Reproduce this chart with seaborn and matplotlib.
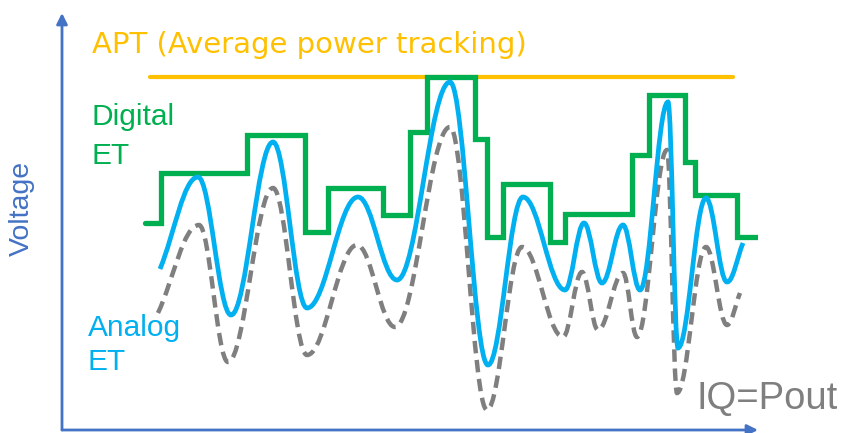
import numpy as np
import pandas as pd
import matplotlib
matplotlib.use("Agg")
import matplotlib.pyplot as plt
from matplotlib.path import Path
from matplotlib.patches import PathPatch
import seaborn as sns

# time axis / voltage axis in arbitrary units (origin at the arrow corner)
apt_t = [88, 671]
apt_v = [353, 353]

digital_t = [83, 99, 185, 243, 266, 321, 348, 365, 413, 425, 441, 488,
             503, 570, 587, 623, 633, 675, 696]
digital_v = [207, 257, 295, 198, 242, 215, 298, 353, 291, 193, 246, 188,
             216, 275, 335, 268, 235, 193]

# turning points of the analog ET envelope
analog_t = [98, 136, 169, 211, 245, 296, 335, 388, 426, 461, 503, 522,
            540, 561, 578, 606, 616, 644, 665, 681]
analog_v = [161, 253, 115, 288, 122, 233, 150, 348, 65, 233, 140, 207,
            147, 205, 140, 328, 82, 232, 148, 187]

# turning points of the IQ=Pout signal
iq_t = [96, 137, 166, 211, 245, 295, 333, 388, 425, 460, 501, 520,
        536, 561, 575, 605, 615, 644, 665, 678]
iq_v = [117, 205, 68, 242, 75, 185, 103, 303, 20, 183, 93, 158,
        100, 157, 93, 280, 37, 183, 105, 137]

ORANGE = "#FFC000"
GREEN = "#00B050"
CYAN = "#00B0F0"
GRAY = "#7F7F7F"
BLUE = "#4472C4"


def curve_path(xs, ys, k=0.38):
    # cubic bezier through the turning points, flat tangent at each extremum
    verts = [(xs[0], ys[0])]
    codes = [Path.MOVETO]
    n = len(xs)
    for i in range(n - 1):
        dx = xs[i + 1] - xs[i]
        s0 = 0.0
        s1 = 0.0
        if i == 0:
            s0 = (ys[1] - ys[0]) / dx
        if i + 1 == n - 1:
            s1 = (ys[i + 1] - ys[i]) / dx
        verts += [(xs[i] + k * dx, ys[i] + s0 * k * dx),
                  (xs[i + 1] - k * dx, ys[i + 1] - s1 * k * dx),
                  (xs[i + 1], ys[i + 1])]
        codes += [Path.CURVE4] * 3
    return Path(verts, codes)


sns.set_theme(style="white")
plt.rcParams["font.family"] = ["DejaVu Sans"]

fig = plt.figure(figsize=(8.48, 4.33), dpi=100)
ax = fig.add_axes([62 / 848, 3 / 433, 696 / 848, 417 / 433])
ax.set_xlim(0, 696)
ax.set_ylim(0, 417)
ax.set_xticks([])
ax.set_yticks([])
for sp in ax.spines.values():
    sp.set_visible(False)

apt_df = pd.DataFrame({"t": apt_t, "v": apt_v})
sns.lineplot(data=apt_df, x="t", y="v", color=ORANGE, lw=3.0,
             estimator=None, ax=ax, zorder=2)

dig_df = pd.DataFrame({"t": digital_t, "v": digital_v + [digital_v[-1]]})
sns.lineplot(data=dig_df, x="t", y="v", color=GREEN, lw=3.8,
             drawstyle="steps-post", estimator=None, ax=ax, zorder=3,
             solid_joinstyle="miter")

ax.add_patch(PathPatch(curve_path(iq_t, iq_v), fill=False, edgecolor=GRAY,
                       lw=3.2, linestyle=(0, (2.8, 1.5)), zorder=4,
                       capstyle="butt"))
ax.add_patch(PathPatch(curve_path(analog_t, analog_v), fill=False,
                       edgecolor=CYAN, lw=3.4, zorder=5))

# axis arrows
arrow = dict(arrowstyle="-|>", color=BLUE, lw=2.0, mutation_scale=16,
             shrinkA=0, shrinkB=0)
ax.annotate("", xy=(0, 1), xytext=(0, 0), xycoords="axes fraction",
            arrowprops=arrow)
ax.annotate("", xy=(1, 0), xytext=(0, 0), xycoords="axes fraction",
            arrowprops=arrow)

ax.set_xlabel("")
ax.set_ylabel("")

ax.text(30, 385, "APT (Average power tracking)", color=ORANGE,
        fontsize=21, va="center", ha="left")
ax.text(30, 313, "Digital", color=GREEN, fontsize=21.5, va="center",
        family=["Liberation Sans"])
ax.text(30, 274, "ET", color=GREEN, fontsize=21.5, va="center",
        family=["Liberation Sans"])
ax.text(26, 102, "Analog", color=CYAN, fontsize=21.5, va="center",
        family=["Liberation Sans"])
ax.text(26, 68, "ET", color=CYAN, fontsize=21.5, va="center",
        family=["Liberation Sans"])
ax.text(634, 31, "IQ=Pout", color=GRAY, fontsize=27.5, va="center",
        family=["Liberation Sans"], clip_on=False)
fig.text(22 / 848, 1 - 208 / 433, "Voltage", color=BLUE, fontsize=20.5,
         rotation=90, va="center", ha="center", family=["Liberation Sans"])

fig.savefig("out.png", dpi=100)
plt.close(fig)
